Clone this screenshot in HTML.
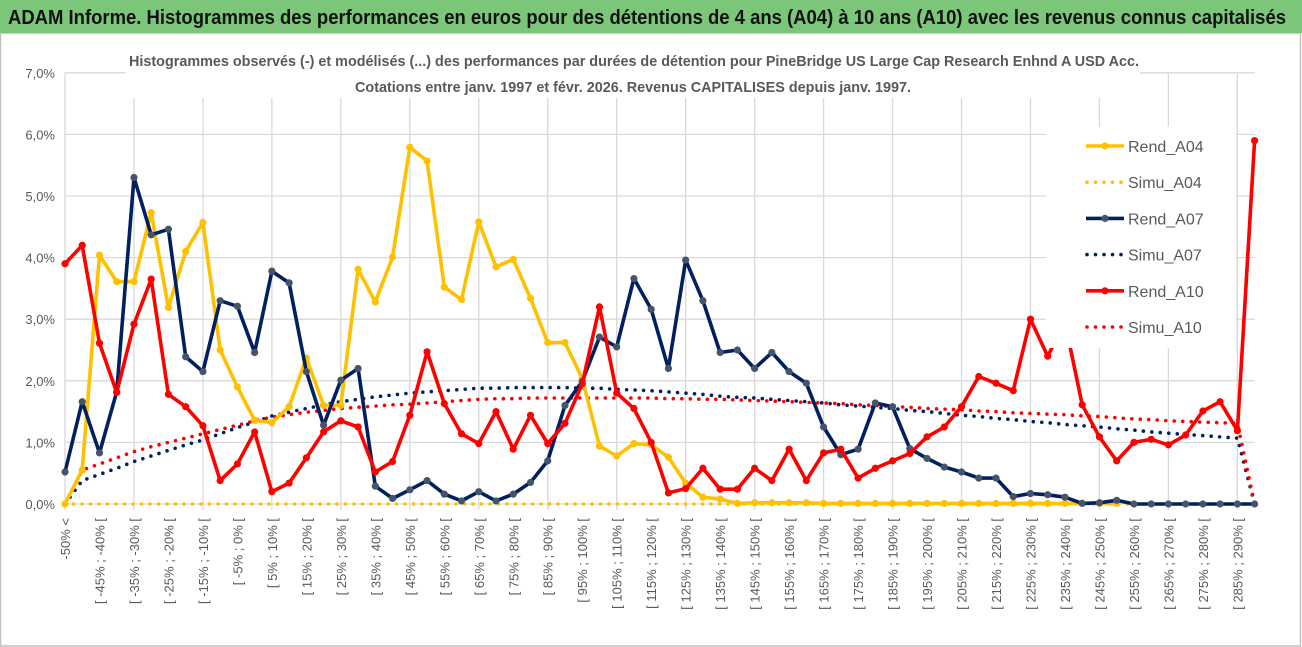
<!DOCTYPE html>
<html><head><meta charset="utf-8"><style>
html,body{margin:0;padding:0;background:#fff;}
svg{display:block;font-family:"Liberation Sans",sans-serif;}
</style></head><body>
<svg id="chart" width="1302" height="647" viewBox="0 0 1302 647" xmlns="http://www.w3.org/2000/svg">
<rect x="0" y="0" width="1302" height="647" fill="#fff"/>
<rect x="0.5" y="33" width="1300" height="613" fill="none" stroke="#bfbfbf" stroke-width="1.5"/>
<rect x="0" y="0" width="1302" height="33" fill="#7cc67a"/>
<text x="8" y="24" font-size="20" font-weight="bold" fill="#111" textLength="1278" lengthAdjust="spacingAndGlyphs">ADAM Informe. Histogrammes des performances en euros pour des détentions de 4 ans (A04) à 10 ans (A10) avec les revenus connus capitalisés</text>
<g id="grid"></g>
<rect x="126" y="40" width="1014" height="58" fill="#fff"/>
<text x="634" y="66" text-anchor="middle" font-size="15" font-weight="bold" fill="#595959" textLength="1010" lengthAdjust="spacingAndGlyphs">Histogrammes observés (-) et modélisés (...) des performances par durées de détention pour PineBridge US Large Cap Research Enhnd A USD Acc.</text>
<text x="633" y="92" text-anchor="middle" font-size="15" font-weight="bold" fill="#595959" textLength="556" lengthAdjust="spacingAndGlyphs">Cotations entre janv. 1997 et févr. 2026. Revenus CAPITALISES depuis janv. 1997.</text>
<g id="yaxis"></g>
<g id="xaxis"></g>
<g id="series"></g>
<g id="legend"></g>
</svg>
<script>
const yTicks=[0,1,2,3,4,5,6,7];
const rendA04=[0,.55,4.04,3.61,3.61,4.73,3.19,4.1,4.57,2.5,
1.9,1.36,1.32,1.58,2.37,1.6,1.6,3.81,3.28,4.01,
5.79,5.57,3.52,3.32,4.58,3.85,3.97,3.34,2.62,2.62,
2.04,.94,.78,.98,.96,.76,.34,.11,.08,.01,
.02,.02,.02,.02,.01,.01,.01,.01,.01,.01,
.01,.01,.01,.01,.01,.01,.01,.01,.01,.01,
.01,.01,null,null,null,null,null,null,null,null];
const rendA07=[.52,1.66,.83,1.82,5.3,4.37,4.46,2.39,2.15,3.3,
3.21,2.46,3.78,3.59,2.15,1.28,2.01,2.2,.29,.09,
.23,.38,.16,.05,.2,.05,.16,.35,.7,1.6,
1.99,2.71,2.55,3.66,3.16,2.2,3.96,3.3,2.46,2.5,
2.2,2.46,2.15,1.96,1.25,.8,.89,1.64,1.58,.9,
.74,.6,.52,.42,.42,.12,.17,.15,.11,.01,
.02,.06,0,0,0,0,0,0,0,0];
const rendA10=[3.9,4.2,2.61,1.81,2.92,3.65,1.78,1.58,1.27,.38,
.65,1.17,.2,.34,.75,1.17,1.35,1.25,.52,.69,
1.44,2.47,1.63,1.14,.98,1.5,.89,1.44,.98,1.31,
1.95,3.2,1.8,1.55,1.0,.18,.25,.58,.24,.24,
.58,.38,.89,.38,.83,.89,.42,.58,.7,.82,
1.09,1.25,1.58,2.07,1.96,1.84,3.0,2.4,2.95,1.61,
1.09,.7,1.0,1.05,.96,1.12,1.51,1.66,1.19,5.9];
const simuA04=[0,0,0,0,0,0,0,0,0,0,0,0,0,0,0,0,0,0,0,0,0,0,0,0,0,0,0,0,0,0,0,0,0,0,0,0,0,0,0,0,0,0,0,0,0,0,0,0,0,0,0,0,0,0,0,0,0,0,0,0,0,0,0,0,0,0,0,0,0,0];
const simuA07=[0,.38,.48,.58,.69,.78,.87,.96,1.04,1.14,
1.24,1.33,1.43,1.49,1.55,1.61,1.66,1.70,1.74,1.77,
1.80,1.82,1.84,1.86,1.88,1.88,1.89,1.89,1.89,1.89,
1.88,1.88,1.86,1.85,1.84,1.82,1.80,1.78,1.75,1.73,
1.72,1.70,1.68,1.66,1.64,1.61,1.59,1.57,1.55,1.52,
1.50,1.47,1.44,1.42,1.39,1.37,1.34,1.32,1.29,1.27,
1.25,1.22,1.20,1.17,1.15,1.13,1.11,1.09,1.07,0];
const simuA10=[0,.55,.65,.75,.85,.93,1.0,1.07,1.14,1.21,
1.28,1.35,1.41,1.45,1.49,1.52,1.55,1.57,1.59,1.61,
1.62,1.64,1.66,1.68,1.70,1.71,1.71,1.72,1.72,1.72,
1.72,1.72,1.72,1.72,1.72,1.71,1.71,1.70,1.70,1.69,
1.68,1.67,1.66,1.65,1.64,1.63,1.61,1.60,1.58,1.57,
1.55,1.54,1.53,1.51,1.50,1.48,1.47,1.46,1.45,1.43,
1.42,1.40,1.38,1.37,1.35,1.34,1.33,1.32,1.31,0];
const categories=["-50% <"];
for(let k=1;k<70;k++){categories.push("[ "+(-55+5*k)+"% ; "+(-50+5*k)+"% [");}

const NS="http://www.w3.org/2000/svg";
const X0=65,DX=(1254.6-65)/69,Y0=504,PY=61.6;
function xs(i){return X0+i*DX;}
function ys(v){return Y0-v*PY;}
function mk(tag,attrs,parent){const e=document.createElementNS(NS,tag);for(const k in attrs)e.setAttribute(k,attrs[k]);parent.appendChild(e);return e;}
const grid=document.getElementById('grid'),yax=document.getElementById('yaxis'),xax=document.getElementById('xaxis'),ser=document.getElementById('series'),leg=document.getElementById('legend');

yTicks.forEach(t=>{
  const l=mk('line',{x1:X0,x2:1255,y1:ys(t),y2:ys(t),stroke:'#d9d9d9','stroke-width':1.3},grid);
  
  
  const tx=mk('text',{x:55,y:ys(t)+5,'text-anchor':'end','font-size':13,fill:'#595959'},yax);
  tx.textContent=t.toFixed(1).replace('.',',')+'%';
  
  
});
for(let i=0;i<categories.length;i+=4){
  const l=mk('line',{x1:xs(i),x2:xs(i),y1:ys(7),y2:Y0+6,stroke:'#d9d9d9','stroke-width':1.3},grid);
  
  
}
categories.forEach((c,i)=>{
  if(i%2!==0)return;
  const x=xs(i)+5,y=518;
  const tx=mk('text',{x:x,y:y,'font-size':13,fill:'#595959','text-anchor':'end',transform:`rotate(-90 ${x} ${y})`},xax);
  tx.textContent=c;
  
  
});

function path(arr){let d='',pen=false;arr.forEach((v,i)=>{if(v===null){pen=false;return;}d+=(pen?'L':'M')+xs(i).toFixed(1)+' '+ys(v).toFixed(1)+' ';pen=true;});return d;}
function dotted(arr,color,name){
  const p=mk('path',{d:path(arr),fill:'none',stroke:color,'stroke-width':3.6,'stroke-linecap':'round','stroke-dasharray':'0 8.5'},ser);
  
  
}
function solid(arr,color,mcolor,name){
  const g=mk('g',{},ser);
  
  
  mk('path',{d:path(arr),fill:'none',stroke:color,'stroke-width':3.6,'stroke-linejoin':'round'},g);
  arr.forEach((v,i)=>{if(v===null)return;
    const c=mk('circle',{cx:xs(i),cy:ys(v),r:3.6,fill:mcolor},g);
    
    
  });
}
dotted(simuA04,'#FFC000','simu-a04-line');
dotted(simuA07,'#002060','simu-a07-line');
dotted(simuA10,'#FF0000','simu-a10-line');
solid(rendA04,'#FFC000','#FFC000','rend-a04-line');
solid(rendA07,'#002060','#44546A','rend-a07-line');
solid(rendA10,'#FF0000','#FF0000','rend-a10-line');

const legendItems=[["Rend_A04","#FFC000",false],["Simu_A04","#FFC000",true],["Rend_A07","#002060",false],["Simu_A07","#002060",true],["Rend_A10","#FF0000",false],["Simu_A10","#FF0000",true]];
const lb=mk('rect',{x:1046,y:127,width:190,height:221,fill:'#fff'},leg);


legendItems.forEach((it,k)=>{
  const y=146+k*36.2;
  const g=mk('g',{},leg);
  
  
  if(it[2]){mk('line',{x1:1087,x2:1122,y1:y,y2:y,stroke:it[1],'stroke-width':3.6,'stroke-linecap':'round','stroke-dasharray':'0 8.5'},g);}
  else{mk('line',{x1:1086,x2:1124,y1:y,y2:y,stroke:it[1],'stroke-width':3.6},g);mk('circle',{cx:1105,cy:y,r:3.6,fill:it[1]==='#002060'?'#44546A':it[1]},g);}
  const t=mk('text',{x:1128,y:y+6,'font-size':16,fill:'#595959'},g);
  t.textContent=it[0];
});
</script>
</body></html>
